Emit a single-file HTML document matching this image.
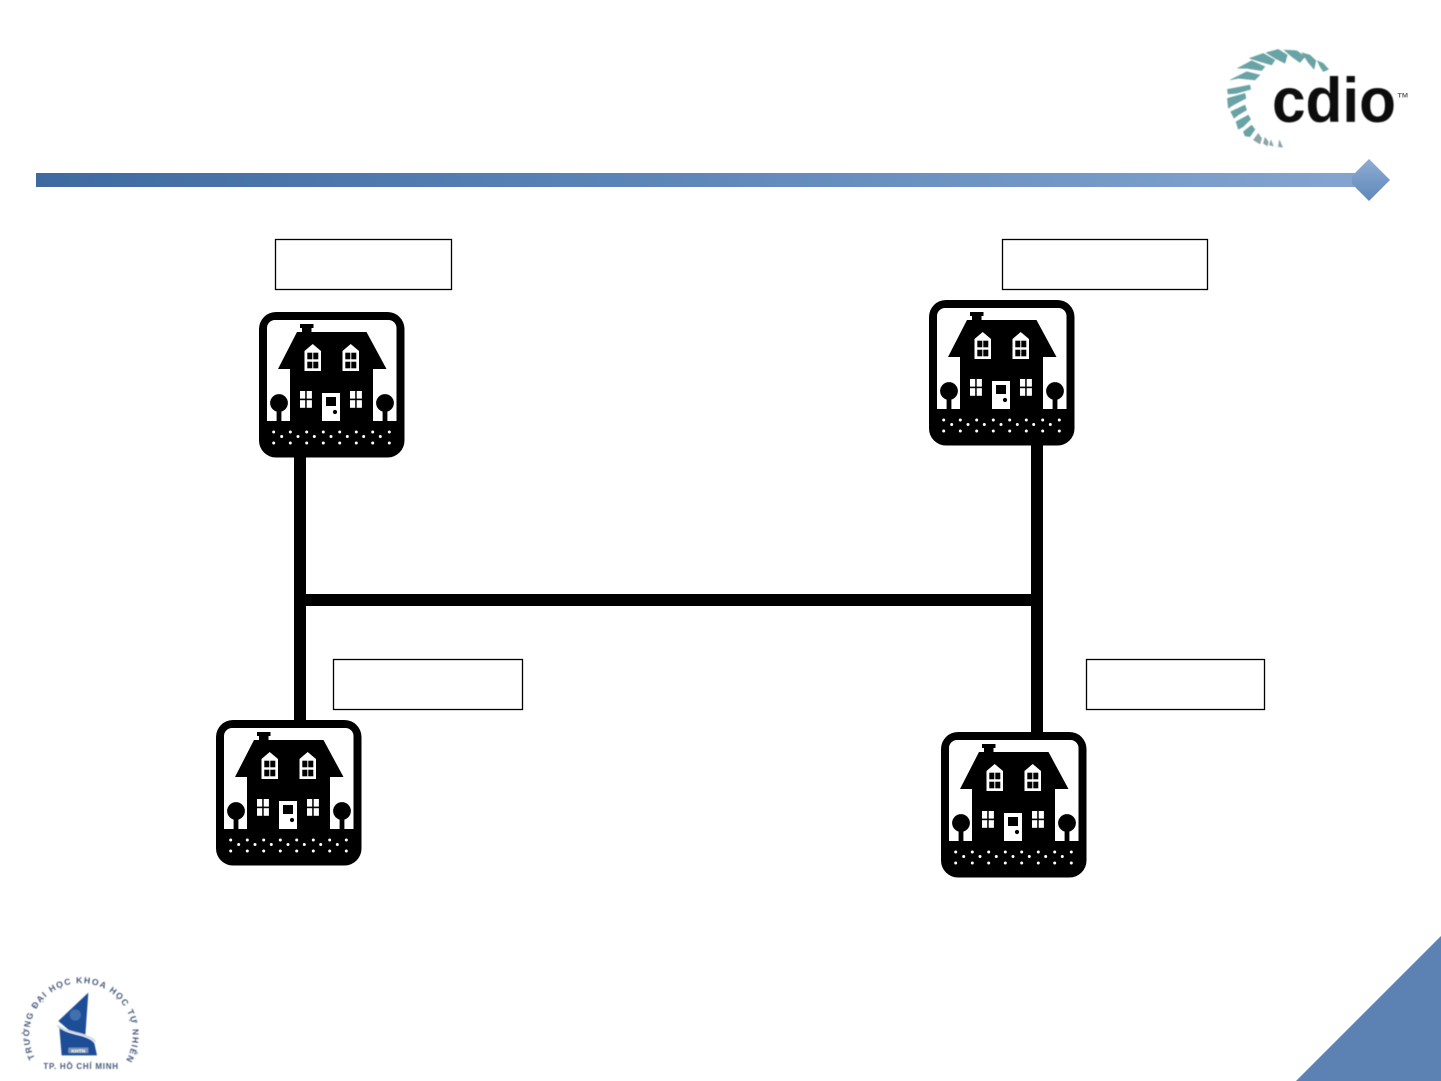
<!DOCTYPE html>
<html>
<head>
<meta charset="utf-8">
<style>
html,body{margin:0;padding:0;background:#fff;width:1441px;height:1081px;overflow:hidden}
svg{display:block}
</style>
</head>
<body>
<svg width="1441" height="1081" viewBox="0 0 1441 1081" xmlns="http://www.w3.org/2000/svg">
<defs>
<linearGradient id="bar" x1="0" y1="0" x2="1" y2="0">
<stop offset="0" stop-color="#3f6a9f"/><stop offset="0.5" stop-color="#5f88b9"/><stop offset="1" stop-color="#84a5cf"/>
</linearGradient>
<linearGradient id="dia" x1="0" y1="0" x2="0" y2="1">
<stop offset="0" stop-color="#8eadd3"/><stop offset="1" stop-color="#5f88ba"/>
</linearGradient>
<filter id="b1" x="-5%" y="-5%" width="110%" height="110%"><feGaussianBlur stdDeviation="1.6"/></filter>
<filter id="b2" x="-5%" y="-5%" width="110%" height="110%"><feGaussianBlur stdDeviation="1.2"/></filter>
<g id="house">
<rect x="0" y="0" width="145.5" height="145.5" rx="17" fill="#000"/>
<path d="M16 8H129.5a8 8 0 0 1 8 8V109H8V16a8 8 0 0 1 8-8Z" fill="#fff"/>
<path d="M41 12H54.5V16H52.5V20H107.5L127.5 57H114V109H31V57H19L38 20H43V16H41Z" fill="#000"/>
<circle cx="20" cy="91" r="8.9" fill="#000"/><rect x="17.6" y="95" width="4.8" height="15" fill="#000"/>
<circle cx="126" cy="91" r="8.9" fill="#000"/><rect x="123.6" y="95" width="4.8" height="15" fill="#000"/>
<g fill="#fff">
<path d="M45.5 39L53.7 32L62 39V59H45.5Z"/>
<path d="M83.5 39L91.7 32L100 39V59H83.5Z"/>
<rect x="41" y="79" width="5.2" height="7.6"/><rect x="47.7" y="79" width="5.2" height="7.6"/>
<rect x="41" y="88.2" width="5.2" height="7.6"/><rect x="47.7" y="88.2" width="5.2" height="7.6"/>
<rect x="91" y="79" width="5.2" height="7.6"/><rect x="97.7" y="79" width="5.2" height="7.6"/>
<rect x="91" y="88.2" width="5.2" height="7.6"/><rect x="97.7" y="88.2" width="5.2" height="7.6"/>
<rect x="63" y="81" width="18" height="28"/>
</g>
<g fill="#000">
<rect x="48.3" y="40.7" width="5" height="6.6"/><rect x="54.3" y="40.7" width="5" height="6.6"/>
<rect x="48.3" y="49.7" width="5" height="6.6"/><rect x="54.3" y="49.7" width="5" height="6.6"/>
<rect x="86.3" y="40.7" width="5" height="6.6"/><rect x="92.3" y="40.7" width="5" height="6.6"/>
<rect x="86.3" y="49.7" width="5" height="6.6"/><rect x="92.3" y="49.7" width="5" height="6.6"/>
<rect x="67" y="85" width="10" height="9"/>
<circle cx="76" cy="100" r="2.1"/>
</g>
<g fill="#fff">
<circle cx="14.7" cy="120" r="1.5"/><circle cx="31.3" cy="120" r="1.5"/><circle cx="47.7" cy="120" r="1.5"/><circle cx="64.3" cy="120" r="1.5"/><circle cx="80.7" cy="120" r="1.5"/><circle cx="97.3" cy="120" r="1.5"/><circle cx="113.7" cy="120" r="1.5"/><circle cx="130.3" cy="120" r="1.5"/>
<circle cx="22.7" cy="124.5" r="1.5"/><circle cx="39" cy="124.5" r="1.5"/><circle cx="55.3" cy="124.5" r="1.5"/><circle cx="72" cy="124.5" r="1.5"/><circle cx="88.3" cy="124.5" r="1.5"/><circle cx="104.7" cy="124.5" r="1.5"/><circle cx="121.3" cy="124.5" r="1.5"/>
<circle cx="14.7" cy="131" r="1.5"/><circle cx="31.3" cy="131" r="1.5"/><circle cx="47.7" cy="131" r="1.5"/><circle cx="64.3" cy="131" r="1.5"/><circle cx="80.7" cy="131" r="1.5"/><circle cx="97.3" cy="131" r="1.5"/><circle cx="113.7" cy="131" r="1.5"/><circle cx="130.3" cy="131" r="1.5"/>
</g>
</g>
</defs>

<!-- header bar -->
<rect x="36" y="173" width="1326" height="14" fill="url(#bar)"/>
<polygon points="1369,159 1390,180 1369,201 1352,184 1352,176" fill="url(#dia)"/>

<!-- corner triangle -->
<polygon points="1441,936 1441,1081 1296,1081" fill="#5b82b3"/>

<!-- connectors -->
<rect x="294" y="450" width="12" height="275" fill="#000"/>
<rect x="1031" y="440" width="12" height="297" fill="#000"/>
<rect x="300" y="594" width="737" height="12" fill="#000"/>

<!-- houses -->
<use href="#house" x="259" y="312"/>
<use href="#house" x="929" y="300"/>
<use href="#house" x="216" y="720"/>
<use href="#house" x="941" y="732"/>

<!-- label boxes -->
<rect x="275.5" y="239.5" width="176" height="50" fill="#fff" stroke="#000" stroke-width="1.3"/>
<rect x="1002.5" y="239.5" width="205" height="50" fill="#fff" stroke="#000" stroke-width="1.3"/>
<rect x="333.5" y="659.5" width="189" height="50" fill="#fff" stroke="#000" stroke-width="1.3"/>
<rect x="1086.5" y="659.5" width="178" height="50" fill="#fff" stroke="#000" stroke-width="1.3"/>

<!-- cdio logo -->
<g transform="translate(1210,30) scale(0.33333)">
<g filter="url(#b1)" fill="#6aa3a5" stroke="#6aa3a5" stroke-width="1.5" stroke-linejoin="round">
<polygon points="322,92 340,100 356,118 340,125 330,110"/>
<polygon points="275,68 300,75 318,92 312,118 295,98"/>
<polygon points="222,60 260,62 285,80 270,98 245,80"/>
<polygon points="168,68 205,58 232,75 225,100 195,85"/>
<polygon points="118,85 160,70 195,90 185,105 150,95"/>
<polygon points="82,115 125,92 165,110 155,122 110,115"/>
<polygon points="60,150 110,125 150,135 135,150 85,145"/>
<polygon points="52,178 120,165 122,178 80,190 54,192"/>
<polygon points="52,205 105,190 108,205 70,225 55,235"/>
<polygon points="62,245 105,225 110,240 85,255 72,265"/>
<polygon points="78,275 115,255 122,268 100,290 85,298"/>
<polygon points="100,305 125,285 135,298 120,320 105,318"/>
<polygon points="130,330 145,310 155,325 150,342" fill="#8aa4a8" stroke="#8aa4a8"/>
<polygon points="160,340 165,322 175,335 172,348" fill="#8aa4a8" stroke="#8aa4a8"/>
<polygon points="178,345 183,330 190,348" fill="#8aa4a8" stroke="#8aa4a8"/>
<polygon points="205,350 208,330 218,352" fill="#8aa4a8" stroke="#8aa4a8"/>
</g>
<text x="186" y="276" font-family="'Liberation Sans',sans-serif" font-weight="700" font-size="190" textLength="372" lengthAdjust="spacingAndGlyphs" fill="#0a0a0a" filter="url(#b2)">cdio</text>
<text x="562" y="202" font-family="'Liberation Sans',sans-serif" font-weight="700" font-size="20" textLength="32" lengthAdjust="spacingAndGlyphs" fill="#666">TM</text>
</g>

<!-- university logo -->
<g transform="translate(0,960) scale(0.33333)">
<path id="arcTop" d="M105,295 A155,155 0 1 1 381,295" fill="none"/>
<g filter="url(#b2)">
<text font-family="'Liberation Sans','Noto Sans CJK SC',sans-serif" font-weight="700" font-size="26" fill="#4a5a7c" letter-spacing="4"><textPath href="#arcTop" startOffset="0">TRƯỜNG ĐẠI HỌC KHOA HỌC TỰ NHIÊN</textPath></text>
<text x="130" y="327" font-family="'Liberation Sans','Noto Sans CJK SC',sans-serif" font-weight="700" font-size="24" fill="#4a5a7c" letter-spacing="2" textLength="226">TP. HỒ CHÍ MINH</text>
<polygon points="265,98 175,183 212,215 256,226" fill="#1d4e96"/>
<circle cx="226" cy="165" r="17" fill="#3f6fae"/>
<path d="M178,203C205,228 262,222 283,250L291,286H185Z" fill="#1d4e96"/>
<path d="M172,197C205,222 262,218 286,245" fill="none" stroke="#cfd9e6" stroke-width="6"/>
<rect x="205" y="263" width="60" height="16" fill="#7d95b8"/>
<text x="235" y="277" text-anchor="middle" font-family="'Liberation Sans',sans-serif" font-weight="700" font-size="15" fill="#fff">KHTN</text>
</g>
</g>
</svg>
</body>
</html>
